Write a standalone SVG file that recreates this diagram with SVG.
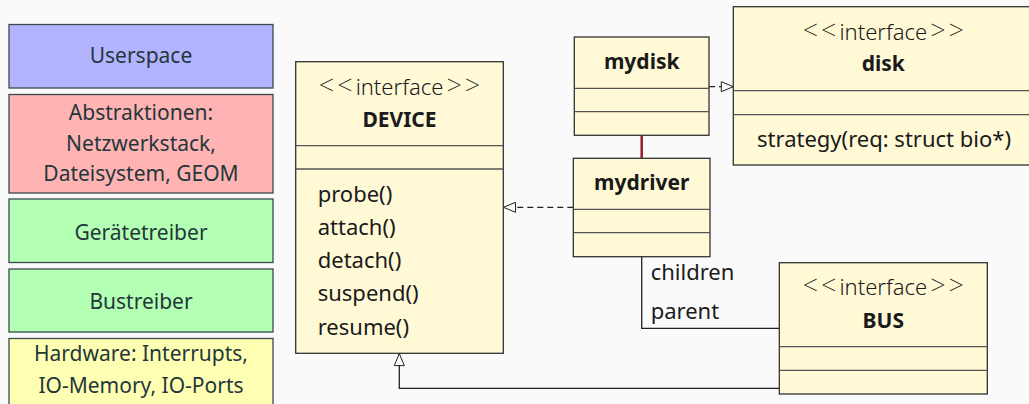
<svg xmlns="http://www.w3.org/2000/svg" width="1029" height="404" viewBox="0 0 1029 404">
<defs>
<style>
text{font-family:"Noto Sans","Open Sans",sans-serif;font-size:22px;fill:#1a1a1a}
.lay text{fill:#23373b;text-anchor:middle;font-size:21px}
.lay rect{stroke:#3a4a4d;stroke-width:1.3}
.uml{fill:#fff9d6;stroke:#333;stroke-width:1.3}
.sep{stroke:#555;stroke-width:1.3}
.c{text-anchor:middle}
.b{font-weight:bold;font-size:21px}
.st{font-weight:300}
.ang{font-weight:200;font-size:27px;letter-spacing:3px}
.conn{fill:none;stroke:#222;stroke-width:1.3}
</style>
<marker id="tri" viewBox="0 0 14 12" refX="13" refY="6" markerWidth="14" markerHeight="12" markerUnits="userSpaceOnUse" orient="auto">
<path d="M1,1 L13,6 L1,11 Z" fill="#fafafa" stroke="#222" stroke-width="1"/>
</marker>
</defs>
<rect width="1029" height="404" fill="#fafafa"/>
<g class="lay">
<g id="userspace"><rect x="9" y="24.5" width="264" height="63.5" fill="#b3b3ff"/><text x="141" y="62.5">Userspace</text></g>
<g id="abstraktionen"><rect x="9" y="94.5" width="264" height="98.5" fill="#ffb3b3"/><text x="141" y="119.5">Abstraktionen:</text><text x="141" y="150.5">Netzwerkstack,</text><text x="141" y="181">Dateisystem, GEOM</text></g>
<g id="geraetetreiber"><rect x="9" y="199" width="264" height="63.5" fill="#b3ffb3"/><text x="141" y="239.5">Gerätetreiber</text></g>
<g id="bustreiber"><rect x="9" y="269" width="264" height="63" fill="#b3ffb3"/><text x="141" y="308.5">Bustreiber</text></g>
<g id="hardware"><rect x="9" y="338.5" width="264" height="70" fill="#ffffb3"/><text x="141" y="360.5">Hardware: Interrupts,</text><text x="141" y="392.5">IO-Memory, IO-Ports</text></g>
</g>
<g id="connectors">
<line x1="641.7" y1="135.3" x2="641.7" y2="158.3" stroke="#9b1c31" stroke-width="2.5"/>
<line class="conn" x1="573.3" y1="207.3" x2="503.5" y2="207.3" stroke-dasharray="6,4" marker-end="url(#tri)"/>
<line class="conn" x1="709" y1="86.7" x2="733.3" y2="86.7" stroke-dasharray="6,4" marker-end="url(#tri)"/>
<polyline class="conn" points="641.7,256.7 641.7,328.3 779.3,328.3"/>
<polyline class="conn" points="779.3,388.3 399.3,388.3 399.3,353.6" marker-end="url(#tri)"/>
<text x="650.7" y="279.5">children</text>
<text x="650.7" y="318.5">parent</text>
</g>
<g id="device">
<rect class="uml" x="295.7" y="61.7" width="207.6" height="291.6"/>
<line class="sep" x1="295.7" y1="145.7" x2="503.3" y2="145.7"/>
<line class="sep" x1="295.7" y1="169" x2="503.3" y2="169"/>
<text class="c st" x="401" y="94.5"><tspan class="ang">&lt;&lt;</tspan>interface<tspan class="ang" dx="3">&gt;&gt;</tspan></text>
<text class="c b" x="399.5" y="126.5">DEVICE</text>
<text x="317.7" y="201.5">probe()</text>
<text x="317.7" y="234.5">attach()</text>
<text x="317.7" y="268">detach()</text>
<text x="317.7" y="300.5">suspend()</text>
<text x="317.7" y="334.5">resume()</text>
</g>
<g id="mydisk">
<rect class="uml" x="574.3" y="37" width="134.7" height="98.3"/>
<line class="sep" x1="574.3" y1="88.3" x2="709" y2="88.3"/>
<line class="sep" x1="574.3" y1="111.7" x2="709" y2="111.7"/>
<text class="c b" x="641.7" y="69">mydisk</text>
</g>
<g id="mydriver">
<rect class="uml" x="573.3" y="158.3" width="136.7" height="98.4"/>
<line class="sep" x1="573.3" y1="209.3" x2="710" y2="209.3"/>
<line class="sep" x1="573.3" y1="232.7" x2="710" y2="232.7"/>
<text class="c b" x="641.7" y="190">mydriver</text>
</g>
<g id="disk">
<rect class="uml" x="733.3" y="6.7" width="300" height="158.3"/>
<line class="sep" x1="733.3" y1="90.7" x2="1033.3" y2="90.7"/>
<line class="sep" x1="733.3" y1="114.7" x2="1033.3" y2="114.7"/>
<text class="c st" x="884.8" y="39.5"><tspan class="ang">&lt;&lt;</tspan>interface<tspan class="ang" dx="3">&gt;&gt;</tspan></text>
<text class="c b" x="883.3" y="71">disk</text>
<text class="c" x="884" y="147">strategy(req: struct bio*)</text>
</g>
<g id="bus">
<rect class="uml" x="779.3" y="262.7" width="208" height="131.3"/>
<line class="sep" x1="779.3" y1="346.7" x2="987.3" y2="346.7"/>
<line class="sep" x1="779.3" y1="370.3" x2="987.3" y2="370.3"/>
<text class="c st" x="884.8" y="294.5"><tspan class="ang">&lt;&lt;</tspan>interface<tspan class="ang" dx="3">&gt;&gt;</tspan></text>
<text class="c b" x="883.3" y="327.5">BUS</text>
</g>
</svg>
